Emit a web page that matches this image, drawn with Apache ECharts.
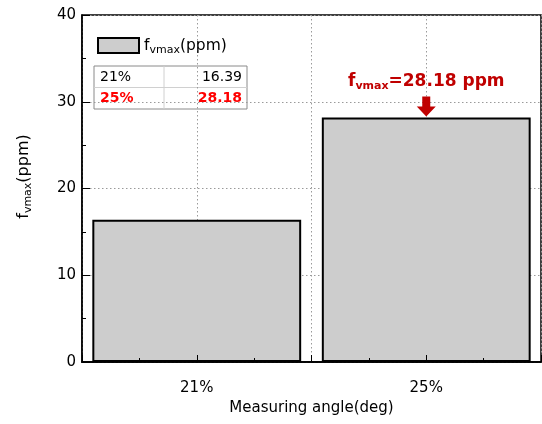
<!DOCTYPE html>
<html>
<head>
<meta charset="utf-8">
<script src="https://cdn.jsdelivr.net/npm/echarts@6/dist/echarts.min.js"></script>
<style>
html,body{margin:0;padding:0;background:#fff;}
#chart{width:542px;height:424px;}
</style>
</head>
<body>
<div id="chart"></div>
<script>
// ---- data ----
var categories = ['21%', '25%'];
var values = [16.39, 28.18];
var yTicks = [0, 10, 20, 30, 40];
var seriesName = 'fvmax(ppm)';
var xTitle = 'Measuring angle(deg)';

var FONT = 'DejaVu Sans';
var RED = '#c00000';

var chart = echarts.init(document.getElementById('chart'), null, {renderer: 'canvas'});

var maxIdx = values.indexOf(Math.max.apply(null, values));

// table graphic built from arrays
var tbl = {x: 94, y: 66, w: 153, rowH: 21.5, colX: 164};
var tableEls = [
  {type: 'rect', shape: {x: tbl.x, y: tbl.y, width: tbl.w, height: tbl.rowH * categories.length},
   style: {fill: '#fff', stroke: '#8a8a8a', lineWidth: 1}},
  {type: 'line', shape: {x1: tbl.colX, y1: tbl.y, x2: tbl.colX, y2: tbl.y + tbl.rowH * categories.length},
   style: {stroke: '#d0d0d0', lineWidth: 1}}
];
for (var i = 0; i < categories.length; i++) {
  var isMax = (i === maxIdx);
  var cy = tbl.y + tbl.rowH * (i + 0.5) + 0.5;
  if (i > 0) {
    tableEls.push({type: 'line', shape: {x1: tbl.x, y1: tbl.y + tbl.rowH * i, x2: tbl.x + tbl.w, y2: tbl.y + tbl.rowH * i},
      style: {stroke: '#d0d0d0', lineWidth: 1}});
  }
  tableEls.push({type: 'text', x: tbl.x + 6, y: cy,
    style: {text: categories[i], font: (isMax ? 'bold ' : '') + '14px "' + FONT + '"',
      fill: isMax ? '#ff0000' : '#000', textVerticalAlign: 'middle', textAlign: 'left'}});
  tableEls.push({type: 'text', x: tbl.x + tbl.w - 5, y: cy,
    style: {text: values[i].toFixed(2), font: (isMax ? 'bold ' : '') + '14px "' + FONT + '"',
      fill: isMax ? '#ff0000' : '#000', textVerticalAlign: 'middle', textAlign: 'right'}});
}

var option = {
  animation: false,
  backgroundColor: '#fff',
  textStyle: {fontFamily: FONT},
  grid: {left: 82, right: 1, top: 15, bottom: 62, show: true, borderColor: '#000', borderWidth: 1.5, backgroundColor: 'transparent'},
  legend: {
    left: 92, top: 32, itemWidth: 41, itemHeight: 15, itemGap: 5,
    icon: 'rect',
    data: [seriesName],
    formatter: function () { return '{a|f}{b|vmax}{a|(ppm)}'; },
    textStyle: {
      rich: {
        a: {fontFamily: FONT, fontSize: 15.5, color: '#000'},
        b: {fontFamily: FONT, fontSize: 11, color: '#000', padding: [10, 0, 0, 0]}
      }
    }
  },
  xAxis: [
    {
      type: 'category', data: categories, position: 'bottom',
      axisLine: {show: true, onZero: false, lineStyle: {color: '#000', width: 1.5}},
      axisTick: {show: false},
      axisLabel: {fontFamily: FONT, fontSize: 15, color: '#000', margin: 19},
      splitLine: {show: false},
      name: xTitle, nameLocation: 'middle', nameGap: 37,
      nameTextStyle: {fontFamily: FONT, fontSize: 15, color: '#000'}
    },
    {
      // grid lines (below bars)
      type: 'value', min: 0, max: 4, interval: 1, position: 'bottom',
      axisLine: {show: false, onZero: false},
      axisTick: {show: false},
      axisLabel: {show: false},
      splitLine: {show: true, lineStyle: {color: '#9a9a9a', type: [1.5, 2.5], width: 1}}
    },
    {
      // inward ticks (above bars)
      type: 'value', min: 0, max: 4, interval: 1, position: 'bottom', z: 5,
      axisLine: {show: true, onZero: false, lineStyle: {color: '#000', width: 1.5}},
      axisTick: {show: true, inside: true, length: 7, lineStyle: {color: '#000', width: 1}},
      minorTick: {show: true, splitNumber: 2, length: 4, lineStyle: {color: '#000', width: 1}},
      axisLabel: {show: false},
      splitLine: {show: false}
    }
  ],
  yAxis: {
    type: 'value', min: yTicks[0], max: yTicks[yTicks.length - 1], interval: 10,
    axisLine: {show: true, onZero: false, lineStyle: {color: '#000', width: 1.5}},
    axisTick: {show: true, inside: true, length: 8, lineStyle: {color: '#000', width: 1}},
    minorTick: {show: true, splitNumber: 2, length: 4, lineStyle: {color: '#000', width: 1}},
    axisLabel: {fontFamily: FONT, fontSize: 15, color: '#000', margin: 6},
    splitLine: {show: true, lineStyle: {color: '#9a9a9a', type: [1.5, 2.5], width: 1}},
    name: '{a|f}{b|vmax}{a|(ppm)}', nameLocation: 'middle', nameGap: 48, nameRotate: 90,
    nameTextStyle: {
      padding: [0, 0, 0, 24],
      rich: {
        a: {fontFamily: FONT, fontSize: 16, color: '#000'},
        b: {fontFamily: FONT, fontSize: 11, color: '#000', padding: [10, 0, 0, 0]}
      }
    }
  },
  series: [{
    name: seriesName,
    type: 'bar',
    xAxisIndex: 0,
    data: values,
    barWidth: '91%',
    itemStyle: {color: '#cdcdcd', borderColor: '#000', borderWidth: 2},
    markPoint: {
      symbol: 'path://M5.5,0H13.5V10H19L9.5,20L0,10H5.5Z',
      symbolSize: [19, 20],
      symbolKeepAspect: false,
      symbolOffset: [0, -11],
      itemStyle: {color: RED},
      label: {
        show: true, position: 'top', distance: 5,
        formatter: function (p) { return '{f|f}{s|vmax}{t|=' + p.value.toFixed(2) + ' ppm}'; },
        rich: {
          f: {fontFamily: FONT, fontWeight: 'bold', fontSize: 17, color: RED},
          s: {fontFamily: FONT, fontWeight: 'bold', fontSize: 11, color: RED, padding: [9, 0, 0, 0]},
          t: {fontFamily: FONT, fontWeight: 'bold', fontSize: 17, color: RED}
        }
      },
      data: [{type: 'max'}]
    }
  }],
  graphic: tableEls
};
chart.setOption(option);
</script>
</body>
</html>
